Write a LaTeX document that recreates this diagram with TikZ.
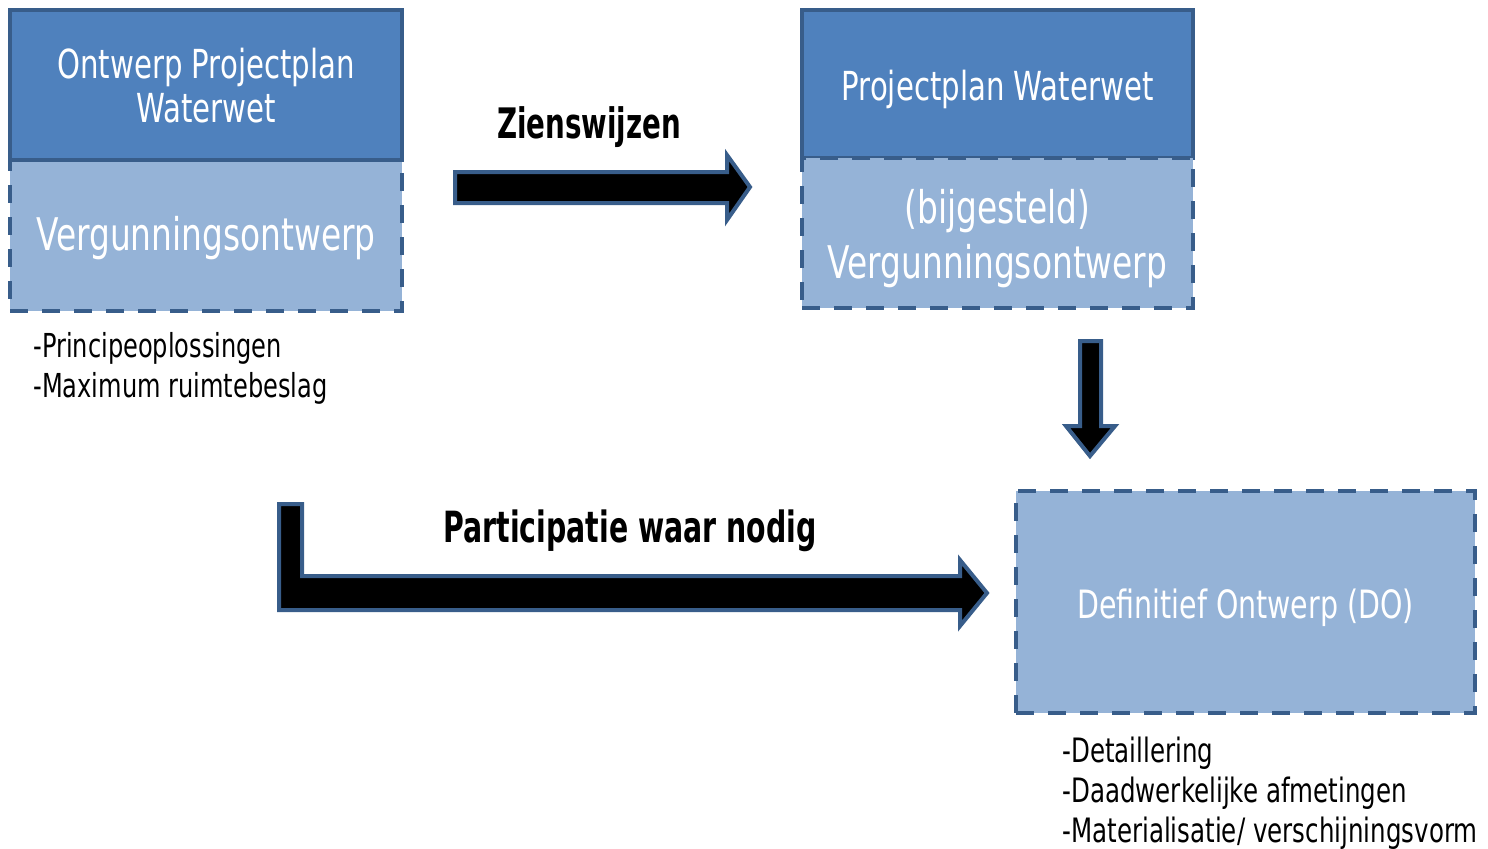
\documentclass[tikz,border=0pt]{standalone}
\usepackage{fontspec}
\setmainfont{DejaVu Sans}[FakeStretch=0.73]
\newfontfamily\boldface{DejaVu Sans Bold}[FakeStretch=0.66]
\definecolor{darkblue}{HTML}{4F81BD}
\definecolor{lightblue}{HTML}{95B3D7}
\definecolor{edgeblue}{HTML}{385D8A}
\begin{document}
\begin{tikzpicture}[x=0.5pt,y=-0.5pt,
  topbox/.style={draw=edgeblue,fill=darkblue,line width=2pt,inner sep=0pt},
  dashbox/.style={draw=edgeblue,fill=lightblue,line width=2pt,dash pattern=on 9pt off 7pt,inner sep=0pt},
  boxtext/.style={text=white,align=center,inner sep=0pt},
  blockarrow/.style={draw=edgeblue,fill=black,line width=2pt,line join=miter},
  note/.style={anchor=west,align=left,inner sep=0pt,font=\fontsize{16.5}{20}\selectfont},
  lbl/.style={inner sep=0pt,font=\boldface\fontsize{21}{24}\selectfont}]
\useasboundingbox (0,0) rectangle (1488,848);
% box 1
\node[dashbox,minimum width=196pt,minimum height=75.5pt] (b1low) at (206,235.5) {};
\node[topbox,minimum width=196pt,minimum height=75pt] (b1top) at (206,85) {};
\node[boxtext,font=\fontsize{20}{22}\selectfont] (t1top) at ([yshift=-0.5pt]b1top.center) {Ontwerp Projectplan\\Waterwet};
\node[boxtext,font=\fontsize{22.5}{27}\selectfont] (t1low) at ([yshift=-1.5pt]b1low.center) {Vergunningsontwerp};
% box 2
\node[topbox,minimum width=195.5pt,minimum height=74pt] (b2top) at (997.5,84) {};
\node[dashbox,minimum width=195.5pt,minimum height=75pt] (b2low) at (997.5,233) {};
\node[boxtext,font=\fontsize{20}{22}\selectfont] (t2top) at ([yshift=-2.5pt]b2top.center) {Projectplan Waterwet};
\node[boxtext,font=\fontsize{22.5}{27.5}\selectfont] (t2low) at ([yshift=-3pt]b2low.center) {(bijgesteld)\\Vergunningsontwerp};
% DO box
\node[dashbox,minimum width=229.5pt,minimum height=111pt] (do) at (1245.5,602) {};
\node[boxtext,font=\fontsize{19.5}{24}\selectfont] (tdo) at ([yshift=-3pt]do.center) {Definitief Ontwerp (DO)};
% notes
\node[note] (n1) at (33,368) {-Principeoplossingen\\-Maximum ruimtebeslag};
\node[note,font=\fontsize{16.8}{20}\selectfont] (n2) at (1062,793) {-Detaillering\\-Daadwerkelijke afmetingen\\-Materialisatie/ verschijningsvorm};
% labels
\node[lbl] (zw) at (589,127) {Zienswijzen};
\node[lbl,font=\boldface\fontsize{21.5}{26}\selectfont] (pw) at (630,531) {Participatie waar nodig};
% arrows
\draw[blockarrow] (455,172) -- (727,172) -- (727,155) -- (750,187) -- (727,220) -- (727,203) -- (455,203) -- cycle;
\draw[blockarrow] (1080,341) -- (1101,341) -- (1101,426) -- (1115,426) -- (1090,456) -- (1066,426) -- (1080,426) -- cycle;
\draw[blockarrow] (279,504) -- (302,504) -- (302,576) -- (960,576) -- (960,560) -- (987,593) -- (960,626) -- (960,610) -- (279,610) -- cycle;
\end{tikzpicture}
\end{document}
